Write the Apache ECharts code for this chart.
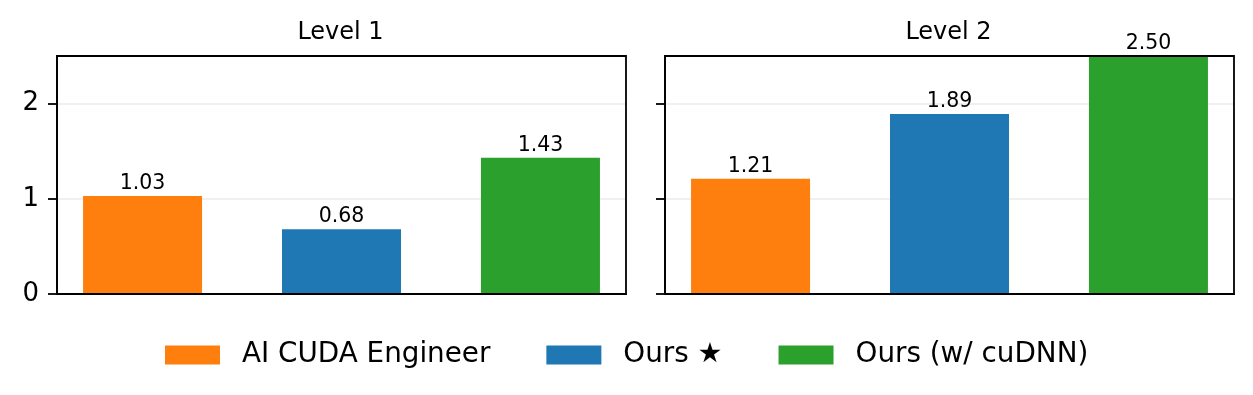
<!DOCTYPE html>
<html>
<head>
<meta charset="utf-8">
<script src="https://cdn.jsdelivr.net/npm/echarts@6/dist/echarts.min.js"></script>
<style>html,body{margin:0;padding:0;background:#fff}#c{width:1253px;height:395px}</style>
</head>
<body>
<div id="c"></div>
<script>
const panels = ['Level 1', 'Level 2'];
const methods = ['AI CUDA Engineer', 'Ours ★', 'Ours (w/ cuDNN)'];
const level1 = [1.03, 0.68, 1.43];
const level2 = [1.21, 1.89, 2.50];
const yTicks = [0, 1, 2];
const colors = ['#ff7f0e', '#1f77b4', '#2ca02c'];

const values = [level1, level2];
const FONT = 'DejaVu Sans';
const gridLeft = [57, 665];
const gridW = 569;

const grids = gridLeft.map(l => ({left: l, top: 56, width: gridW, height: 238, show: true, borderColor: '#000', borderWidth: 1.8, backgroundColor: 'transparent', z: 5}));
const xAxes = gridLeft.map((l, i) => ({
  type: 'value', gridIndex: i, min: -0.43, max: 2.43,
  axisLine: {show: true, onZero: false, lineStyle: {color: '#000', width: 1.8}},
  axisTick: {show: false}, axisLabel: {show: false}, splitLine: {show: false}
}));
const yAxes = gridLeft.map((l, i) => ({
  type: 'value', gridIndex: i, min: 0, max: 2.5, interval: 1,
  axisLine: {show: true, onZero: false, lineStyle: {color: '#000', width: 1.8}},
  axisTick: {show: true, length: 9, customValues: yTicks, lineStyle: {color: '#000', width: 1.8}},
  axisLabel: {show: i === 0, customValues: yTicks, fontFamily: FONT, fontSize: 26, color: '#000', margin: 18, padding: [4, 0, 0, 0]},
  splitLine: {show: true, lineStyle: {color: '#ebebeb', width: 1.5}}
}));

const series = [];
methods.forEach((m, k) => {
  values.forEach((vals, p) => {
    series.push({
      type: 'bar', name: m, xAxisIndex: p, yAxisIndex: p,
      barWidth: 119, barGap: '-100%',
      itemStyle: {color: colors[k]},
      label: {show: true, position: 'top', distance: 2, fontFamily: FONT, fontSize: 20.5, color: '#000',
        formatter: d => d.value[1].toFixed(2)},
      data: [[k, vals[k]]]
    });
  });
});

const chart = echarts.init(document.getElementById('c'), null, {renderer: 'canvas'});
chart.setOption({
  animation: false,
  backgroundColor: '#fff',
  title: panels.map((t, i) => ({
    text: t, left: gridLeft[i] + gridW / 2 - 1, top: 19, textAlign: 'center', padding: 0,
    textStyle: {fontFamily: FONT, fontSize: 24, fontWeight: 'normal', color: '#000', lineHeight: 28}
  })),
  legend: {
    data: methods, left: 165, top: 340, itemWidth: 55, itemHeight: 19, itemGap: 56,
    icon: 'rect', padding: 0,
    textStyle: {fontFamily: FONT, fontSize: 27.8, color: '#000', padding: [0, 0, 0, 17], lineHeight: 30}
  },
  grid: grids,
  xAxis: xAxes,
  yAxis: yAxes,
  series: series
});
</script>
</body>
</html>
